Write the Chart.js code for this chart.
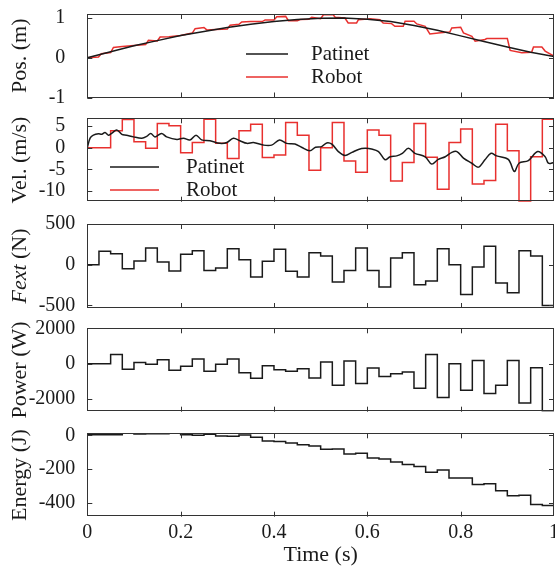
<!DOCTYPE html>
<html>
<head>
<meta charset="utf-8">
<script src="https://cdn.jsdelivr.net/npm/chart.js@4.4.1/dist/chart.umd.min.js"></script>
<style>
	body { margin: 0; background: #fff; }
	#wrap { position: relative; width: 555px; height: 570px; overflow: hidden; }
	#wrap canvas { position: absolute; left: 0; }
</style>
</head>
<body>
<div id="wrap">
	<canvas id="posChart"></canvas>
	<canvas id="velChart"></canvas>
	<canvas id="fextChart"></canvas>
	<canvas id="powerChart"></canvas>
	<canvas id="energyChart"></canvas>
</div>
<script>
// time grid of the robot steps (40 steps of 0.025 s)
var stepTime = [0, 0.025, 0.05, 0.075, 0.1, 0.125, 0.15, 0.175, 0.2, 0.225,
	0.25, 0.275, 0.3, 0.325, 0.35, 0.375, 0.4, 0.425, 0.45, 0.475,
	0.5, 0.525, 0.55, 0.575, 0.6, 0.625, 0.65, 0.675, 0.7, 0.725,
	0.75, 0.775, 0.8, 0.825, 0.85, 0.875, 0.9, 0.925, 0.95, 0.975, 1];

// position (m)
var patinetPosT = [0, 0.05, 0.1, 0.15, 0.2, 0.25, 0.3, 0.35, 0.4, 0.45, 0.5, 0.55, 0.6, 0.65, 0.7, 0.75, 0.8, 0.85, 0.9, 0.95, 1];
var patinetPos = [0, 0.15, 0.3, 0.43, 0.56, 0.66, 0.76, 0.84, 0.91, 0.96, 0.99, 1.0, 0.97, 0.91, 0.81, 0.69, 0.55, 0.41, 0.27, 0.14, 0.03];
var robotPosT = [0, 0.024, 0.03, 0.05, 0.056, 0.075, 0.1, 0.125, 0.131, 0.15, 0.156, 0.175, 0.2, 0.225, 0.231, 0.25, 0.256, 0.275,
	0.3, 0.306, 0.325, 0.331, 0.35, 0.375, 0.381, 0.4, 0.406, 0.425, 0.431, 0.45, 0.456, 0.475, 0.481,
	0.5, 0.506, 0.527, 0.531, 0.552, 0.559, 0.577, 0.581, 0.6, 0.606, 0.627, 0.634, 0.652, 0.659, 0.677, 0.681,
	0.7, 0.706, 0.724, 0.734, 0.752, 0.777, 0.781, 0.8, 0.806, 0.824, 0.831, 0.852, 0.856, 0.9, 0.906,
	0.931, 0.952, 0.956, 0.974, 0.981, 1];
var robotPos = [0, 0.02, 0.1, 0.13, 0.26, 0.28, 0.31, 0.33, 0.44, 0.42, 0.52, 0.53, 0.56, 0.62, 0.73, 0.76, 0.7, 0.71,
	0.72, 0.82, 0.84, 0.9, 0.91, 0.91, 0.95, 0.95, 1.03, 1.04, 0.93, 0.93, 0.96, 0.97, 1.02,
	0.98, 1.08, 1.08, 1.02, 1.0, 0.875, 0.875, 0.958, 0.975, 0.983, 0.958, 0.875, 0.858, 0.79, 0.79, 0.917,
	0.917, 0.85, 0.79, 0.6, 0.625, 0.65, 0.75, 0.767, 0.625, 0.54, 0.417, 0.458, 0.483, 0.483, 0.183,
	0.125, 0.14, 0.267, 0.267, 0.167, 0.04];

// velocity (m/s)
var patinetVelT = [0, 0.006, 0.013, 0.024, 0.031, 0.038, 0.045, 0.052, 0.063, 0.074, 0.084, 0.099, 0.117, 0.127, 0.136, 0.145,
	0.159, 0.17, 0.192, 0.206, 0.22, 0.233, 0.245, 0.263, 0.284, 0.299, 0.313, 0.327, 0.342, 0.356, 0.377, 0.395,
	0.412, 0.427, 0.445, 0.459, 0.477, 0.489, 0.502, 0.513, 0.524, 0.538, 0.552, 0.567, 0.581, 0.595, 0.609, 0.624,
	0.638, 0.649, 0.663, 0.675, 0.688, 0.702, 0.724, 0.738, 0.752, 0.767, 0.781, 0.792, 0.806, 0.824, 0.838, 0.852,
	0.865, 0.877, 0.902, 0.915, 0.925, 0.945, 0.965, 0.981, 0.988, 1];
var patinetVel = [0, 2.2, 2.9, 3.2, 3.1, 3.5, 2.9, 3.3, 4.1, 3.1, 2.9, 2.5, 2.2, 2.6, 3.3, 2.5,
	3.3, 2.5, 1.9, 2.2, 1.8, 2.9, 1.8, 1.6, 1.0, 1.2, 2.2, 1.6, 1.0, 1.2, 0.6, 0.6,
	1.8, 1.0, 0.85, 0.1, -0.7, 0.1, 0.25, 1.1, 0.8, -0.9, -1.8, -1.1, -0.4, -0.15, -0.3, -0.9,
	-2.8, -2.1, -1.9, -1.3, -0.15, -1.3, -2.1, -3.8, -2.7, -2.1, -1.1, -0.9, -2.4, -3.6, -4.5, -2.8,
	-1.3, -1.9, -2.7, -5.5, -3.6, -3.0, -0.9, -2.1, -3.6, -3.4];
var robotVel = [0, 0, 3.9, 6.5, 1.4, -0.15, 5.6, 5.1, -1.2, 1.2,
	6.6, 1.0, -2.5, 3.9, 5.4, -2.3, -1.7, 5.8, 2.9, -5.2,
	0.0, 5.8, -3.1, -5.7, 4.1, 2.9, -7.7, -3.4, 5.6, -2.2,
	-9.6, 1.2, 4.3, -8.4, -7.6, 5.4, -0.7, -12.5, -2.1, 6.6];

// external force (N), power (W), energy (J)
var fext = [0, 164, 135, -49, 45, 205, 33, -78, 127, 172,
	-70, -41, 197, 62, -152, 41, 189, -82, -152, 148,
	107, -213, -70, 205, -70, -275, 82, 148, -246, -201,
	197, 0, -365, -29, 226, -226, -344, 172, 107, -500];
var power = [0, 0, 524, -318, 75, -37, 224, -374, -150, 262,
	-430, -37, 262, -505, -823, -112, -337, -430, -280, -804,
	94, -1215, 150, -1122, -243, -729, -561, -467, -1384, 524,
	-1907, 0, -1496, 187, -1683, -1215, 187, -2225, -224, -2655];
var energy = [4, 4, 4, 16, 8, 10, 9, 14, 4, 0,
	7, -4, -5, 2, -12, -33, -37, -45, -56, -63,
	-83, -81, -111, -107, -135, -141, -159, -173, -185, -219,
	-206, -254, -254, -292, -287, -329, -359, -355, -410, -416];

// tick labels
var timeTicks = [0, 0.2, 0.4, 0.6, 0.8, 1];
var posTicks = [-1, 0, 1];
var velTicks = [-10, -5, 0, 5];
var fextTicks = [-500, 0, 500];
var powerTicks = [-2000, 0, 2000];
var energyTicks = [-400, -200, 0];

var serif = '"Liberation Serif", "Times New Roman", serif';
var ink = '#1a1a1a';
var red = '#e8302e';

Chart.defaults.font.family = serif;
Chart.defaults.color = ink;

function stepPoints(vals)
{
	var pts = [];
	for (var i = 0; i < vals.length; i++)
	{
		pts.push({x: stepTime[i], y: vals[i]});
	}
	pts.push({x: stepTime[vals.length], y: vals[vals.length - 1]});
	return pts;
}

function linePoints(ts, vs)
{
	var pts = [];
	for (var i = 0; i < ts.length; i++)
	{
		pts.push({x: ts[i], y: vs[i]});
	}
	return pts;
}

// matlab style box with inner ticks
var boxPlugin = {
	id: 'box',
	afterDatasetsDraw: function (chart)
	{
		var a = chart.chartArea, ctx = chart.ctx;
		var xs = chart.scales.x, ys = chart.scales.y;
		ctx.save();
		ctx.strokeStyle = '#333';
		ctx.lineWidth = 1;
		ctx.beginPath();
		timeTicks.forEach(function (t)
		{
			if (t <= 0 || t >= 1) return;
			var px = Math.round(xs.getPixelForValue(t)) + 0.5;
			ctx.moveTo(px, a.top); ctx.lineTo(px, a.top + 5);
			ctx.moveTo(px, a.bottom); ctx.lineTo(px, a.bottom - 5);
		});
		ys.ticks.forEach(function (tk)
		{
			var py = Math.round(ys.getPixelForValue(tk.value)) + 0.5;
			ctx.moveTo(a.left, py); ctx.lineTo(a.left + 5, py);
			ctx.moveTo(a.right, py); ctx.lineTo(a.right - 5, py);
		});
		ctx.stroke();
		ctx.strokeRect(Math.round(a.left) + 0.5, Math.round(a.top) + 0.5,
			Math.round(a.right - a.left) - 1, Math.round(a.bottom - a.top) - 1);
		ctx.restore();
	}
};

// legend drawn inside the plot, no frame
var inLegend = {
	id: 'inLegend',
	afterDatasetsDraw: function (chart, args, o)
	{
		if (!o || o.x0 === undefined) return;
		var ctx = chart.ctx;
		ctx.save();
		ctx.font = '21px ' + serif;
		ctx.textBaseline = 'middle';
		ctx.textAlign = 'left';
		chart.data.datasets.forEach(function (ds, i)
		{
			var y = o.y0 + i * o.dy;
			ctx.strokeStyle = ds.borderColor;
			ctx.lineWidth = 1.5;
			ctx.beginPath();
			ctx.moveTo(o.x0, y);
			ctx.lineTo(o.x1, y);
			ctx.stroke();
			ctx.fillStyle = ink;
			ctx.fillText(ds.label, o.tx, y);
		});
		ctx.restore();
	}
};

var fextTitle = {
	id: 'fextTitle',
	afterDraw: function (chart)
	{
		var a = chart.chartArea, ctx = chart.ctx;
		ctx.save();
		ctx.translate(20, (a.top + a.bottom) / 2);
		ctx.rotate(-Math.PI / 2);
		ctx.textBaseline = 'middle';
		ctx.textAlign = 'left';
		ctx.fillStyle = ink;
		ctx.font = 'italic 22px ' + serif;
		var w1 = ctx.measureText('Fext').width;
		ctx.font = '22px ' + serif;
		var w2 = ctx.measureText(' (N)').width;
		var x = -(w1 + w2) / 2;
		ctx.font = 'italic 22px ' + serif;
		ctx.fillText('Fext', x, 0);
		ctx.font = '22px ' + serif;
		ctx.fillText(' (N)', x + w1, 0);
		ctx.restore();
	}
};

// chart area of each panel on the page: [top, bottom]
var panelBox = [[14, 97.5], [118.3, 201.7], [224, 308], [328.3, 411.7], [433.3, 516.7]];

function makePanel(idx, canvasId, datasets, yMin, yMax, yTicks, yTitle, labelPad, legend, extraPlugins)
{
	var box = panelBox[idx];
	var last = idx === panelBox.length - 1;
	var cTop = Math.floor(box[0]) - 12;
	var cHeight = last ? 570 - cTop : Math.ceil(box[1]) + 12 - cTop;
	var padTop = box[0] - cTop;
	var padBottom = last ? 0 : cHeight - (box[1] - cTop);
	var axisH = cHeight - (box[1] - cTop);

	var canvas = document.getElementById(canvasId);
	canvas.width = 555;
	canvas.height = cHeight;
	canvas.style.top = cTop + 'px';

	var plugins = [boxPlugin, inLegend].concat(extraPlugins || []);

	return new Chart(canvas, {
		type: 'line',
		data: {datasets: datasets},
		options: {
			responsive: false,
			animation: false,
			parsing: false,
			layout: {padding: {top: padTop, bottom: padBottom, left: 0, right: 1}},
			elements: {point: {radius: 0}, line: {borderWidth: 1.5, tension: 0}},
			plugins: {
				legend: {display: false},
				tooltip: {enabled: false},
				inLegend: legend || {}
			},
			scales: {
				x: {
					type: 'linear',
					min: 0,
					max: 1,
					display: last,
					grid: {display: false, drawTicks: false},
					border: {display: false},
					afterBuildTicks: function (s) { s.ticks = timeTicks.map(function (v) { return {value: v}; }); },
					afterFit: function (s)
					{
						if (last) s.height = axisH;
						s.paddingLeft = 0;
						s.paddingRight = 0;
					},
					ticks: {
						font: {size: 20},
						color: ink,
						padding: 4,
						maxRotation: 0,
						callback: function (v) { return String(v); }
					},
					title: {display: last, text: 'Time (s)', font: {size: 22}, color: ink, padding: {top: 0, bottom: 2}}
				},
				y: {
					type: 'linear',
					min: yMin,
					max: yMax,
					grid: {display: false, drawTicks: false},
					border: {display: false},
					afterBuildTicks: function (s) { s.ticks = yTicks.map(function (v) { return {value: v}; }); },
					afterFit: function (s)
					{
						s.width = 87.3;
						s.paddingTop = 0;
						s.paddingBottom = 0;
					},
					ticks: {
						font: {size: 20},
						color: ink,
						padding: labelPad,
						callback: function (v) { return String(v); }
					},
					title: {display: !!yTitle, text: yTitle, font: {size: 22}, color: ink, padding: {top: 7, bottom: 0}}
				}
			}
		},
		plugins: plugins
	});
}

makePanel(0, 'posChart', [
	{label: 'Patinet', data: linePoints(patinetPosT, patinetPos), borderColor: ink},
	{label: 'Robot', data: linePoints(robotPosT, robotPos), borderColor: red}
], -1, 1.1, posTicks, 'Pos. (m)', 22, {x0: 246, x1: 288, tx: 311, y0: 52, dy: 23});

makePanel(1, 'velChart', [
	{label: 'Patinet', data: linePoints(patinetVelT, patinetVel), borderColor: ink, tension: 0.35},
	{label: 'Robot', data: stepPoints(robotVel), borderColor: red, stepped: 'before'}
], -12.5, 6.8, velTicks, 'Vel. (m/s)', 22, {x0: 110, x1: 159, tx: 186, y0: 61, dy: 23});

makePanel(2, 'fextChart', [
	{label: 'Fext', data: stepPoints(fext), borderColor: ink, stepped: 'before'}
], -532, 500, fextTicks, '', 12, null, [fextTitle]);

makePanel(3, 'powerChart', [
	{label: 'Power', data: stepPoints(power), borderColor: ink, stepped: 'before'}
], -2710, 2000, powerTicks, 'Power (W)', 12, null);

makePanel(4, 'energyChart', [
	{label: 'Energy', data: stepPoints(energy), borderColor: ink, stepped: 'before'}
], -483, 12, energyTicks, 'Energy (J)', 12, null);
</script>
</body>
</html>
